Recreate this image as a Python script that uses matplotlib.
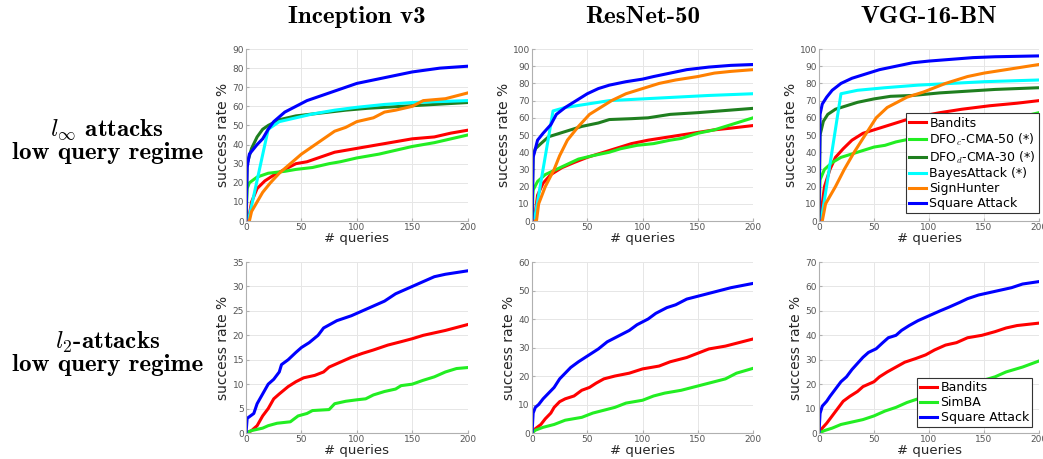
import matplotlib
matplotlib.use("Agg")
import matplotlib.pyplot as plt

plt.rcParams["mathtext.fontset"] = "cm"

# ---------- data: (queries, success rate %) ----------
# top row: l_inf attacks
inc_bandits_x = [0, 2, 5, 10, 17, 25, 35, 45, 55, 65, 80, 100, 120, 130, 150, 170, 185, 200]
inc_bandits_y = [0, 0, 10, 17, 21, 24, 27, 30, 31, 33, 36, 38, 40, 41, 43, 44, 46, 47.5]
inc_dfoc_x = [0, 1, 3, 10, 20, 35, 45, 60, 75, 85, 100, 120, 135, 150, 170, 185, 200]
inc_dfoc_y = [0, 17, 20, 23, 25, 26, 27, 28, 30, 31, 33, 35, 37, 39, 41, 43, 45]
inc_dfod_x = [0, 1, 5, 10, 15, 20, 30, 45, 60, 90, 110, 140, 170, 200]
inc_dfod_y = [0, 30, 38, 44, 48, 50, 53, 55, 56, 58, 59, 60, 61, 62]
inc_bayes_x = [0, 2, 20, 30, 45, 60, 80, 100, 125, 150, 200]
inc_bayes_y = [0, 0, 48, 52, 54, 56, 58, 59.5, 61, 62, 63]
inc_sign_x = [0, 3, 5, 10, 15, 22, 30, 40, 50, 60, 70, 80, 90, 100, 115, 125, 135, 150, 160, 180, 200]
inc_sign_y = [0, 0, 5, 10, 15, 20, 25, 30, 35, 39, 43, 47, 49, 52, 54, 57, 58, 60, 63, 64, 67]
inc_square_x = [0, 1, 3, 10, 15, 20, 25, 35, 45, 55, 70, 85, 100, 125, 150, 175, 200]
inc_square_y = [0, 28, 35, 40, 43, 48, 52, 57, 60, 63, 66, 69, 72, 75, 78, 80, 81]

res_bandits_x = [0, 2, 5, 10, 17, 27, 38, 50, 65, 75, 90, 105, 125, 145, 165, 180, 200]
res_bandits_y = [0, 0, 15, 22, 27, 31, 34, 37, 40, 42, 45, 47, 49, 51, 53, 54, 55.5]
res_dfoc_x = [0, 1, 5, 12, 22, 32, 42, 55, 70, 80, 95, 110, 125, 135, 150, 165, 180, 200]
res_dfoc_y = [0, 18, 23, 27, 30, 33, 36, 38, 40, 42, 44, 45, 47, 48, 51, 53, 56, 60]
res_dfod_x = [0, 1, 3, 8, 15, 25, 35, 45, 60, 70, 90, 105, 125, 150, 170, 200]
res_dfod_y = [0, 38, 42, 45, 49, 51, 53, 55, 57, 59, 59.5, 60, 62, 63, 64, 65.5]
res_bayes_x = [0, 2, 19, 30, 50, 70, 100, 130, 160, 200]
res_bayes_y = [0, 0, 64, 66, 68, 70, 71, 72, 73, 74]
res_sign_x = [0, 4, 6, 12, 20, 25, 32, 42, 52, 62, 72, 85, 100, 115, 130, 150, 165, 180, 200]
res_sign_y = [0, 0, 10, 20, 30, 38, 47, 55, 62, 66, 70, 74, 77, 80, 82, 84, 86, 87, 88]
res_square_x = [0, 1, 3, 5, 10, 17, 22, 30, 40, 50, 60, 70, 85, 100, 110, 125, 140, 160, 180, 200]
res_square_y = [0, 37, 42, 47, 51, 56, 62, 66, 70, 74, 77, 79, 81, 82.5, 84, 86, 88, 89.5, 90.5, 91]

vgg_bandits_x = [0, 1, 5, 10, 15, 22, 30, 40, 50, 60, 70, 85, 110, 130, 155, 180, 200]
vgg_bandits_y = [0, 0, 20, 30, 37, 42, 47, 51, 53, 55, 57, 60, 63, 65, 67, 68.5, 70]
vgg_dfoc_x = [0, 1, 5, 12, 20, 30, 40, 50, 60, 70, 85, 110, 130, 155, 180, 200]
vgg_dfoc_y = [0, 24, 30, 34, 37, 39, 41, 43, 44, 46, 48, 52, 55, 58, 60, 63]
vgg_dfod_x = [0, 1, 4, 8, 15, 25, 35, 50, 65, 85, 110, 135, 160, 200]
vgg_dfod_y = [0, 50, 58, 62, 65, 67, 69, 71, 72.5, 73, 74.5, 75.5, 76.5, 77.5]
vgg_bayes_x = [0, 2, 20, 35, 60, 90, 120, 150, 200]
vgg_bayes_y = [0, 0, 74, 76, 77.5, 79, 80, 81, 82]
vgg_sign_x = [0, 3, 6, 15, 23, 32, 42, 52, 62, 80, 95, 115, 135, 150, 170, 190, 200]
vgg_sign_y = [0, 0, 10, 20, 30, 40, 50, 60, 66, 72, 75, 80, 84, 86, 88, 90, 91]
vgg_square_x = [0, 1, 3, 7, 12, 20, 30, 40, 55, 70, 85, 100, 120, 140, 160, 200]
vgg_square_y = [0, 62, 68, 72, 76, 80, 83, 85, 88, 90, 92, 93, 94, 95, 95.5, 96]

# bottom row: l_2 attacks
inc2_bandits_x = [0, 5, 10, 15, 20, 25, 30, 38, 45, 52, 62, 70, 75, 85, 95, 105, 115, 128, 140, 150, 160, 170, 180, 200]
inc2_bandits_y = [0, 0.5, 1.5, 3.5, 5, 7, 8, 9.5, 10.5, 11.3, 11.8, 12.5, 13.5, 14.5, 15.5, 16.3, 17, 18, 18.7, 19.3, 20, 20.5, 21, 22.2]
inc2_simba_x = [0, 5, 15, 20, 28, 40, 47, 55, 60, 75, 80, 90, 100, 108, 115, 125, 135, 140, 150, 160, 170, 180, 190, 200]
inc2_simba_y = [0, 0.5, 1, 1.5, 2, 2.3, 3.5, 4, 4.6, 4.8, 6, 6.5, 6.8, 7, 7.8, 8.5, 9, 9.7, 10, 10.8, 11.5, 12.5, 13.2, 13.4]
inc2_square_x = [0, 1, 4, 7, 10, 15, 20, 25, 30, 32, 38, 45, 50, 57, 65, 70, 82, 95, 105, 115, 125, 135, 150, 160, 170, 180, 200]
inc2_square_y = [0, 3, 3.5, 4, 6, 8, 10, 11, 12.5, 14, 15, 16.5, 17.5, 18.5, 20, 21.5, 23, 24, 25, 26, 27, 28.5, 30, 31, 32, 32.5, 33.2]

res2_bandits_x = [0, 3, 8, 12, 17, 20, 25, 30, 38, 45, 52, 58, 65, 75, 88, 100, 115, 125, 140, 150, 160, 175, 190, 200]
res2_bandits_y = [0, 1.5, 3, 5, 7, 9, 11, 12, 13, 15, 16, 17.5, 19, 20, 21, 22.5, 23.5, 25, 26.5, 28, 29.5, 30.5, 32, 33]
res2_simba_x = [0, 3, 10, 20, 30, 45, 55, 65, 75, 85, 100, 110, 120, 135, 150, 165, 175, 185, 200]
res2_simba_y = [0, 1, 2, 3, 4.5, 5.5, 7, 8, 9, 10.5, 11.5, 13, 14, 15, 16.5, 18, 19, 21, 22.7]
res2_square_x = [0, 1, 3, 6, 10, 15, 20, 25, 30, 35, 42, 50, 60, 68, 78, 88, 95, 105, 112, 122, 130, 140, 155, 170, 180, 200]
res2_square_y = [0, 7, 9, 10, 12, 14, 16, 19, 21, 23, 25, 27, 29.5, 32, 34, 36, 38, 40, 42, 44, 45, 47, 48.5, 50, 51, 52.5]

vgg2_bandits_x = [0, 3, 7, 12, 17, 22, 28, 35, 40, 50, 55, 62, 70, 78, 88, 97, 105, 115, 125, 135, 148, 160, 170, 180, 200]
vgg2_bandits_y = [0, 2, 4, 7, 10, 13, 15, 17, 19, 21, 23, 25, 27, 29, 30.5, 32, 34, 36, 37, 39, 40, 41.5, 43, 44, 45]
vgg2_simba_x = [0, 5, 12, 20, 30, 40, 50, 60, 70, 80, 90, 100, 115, 130, 145, 160, 170, 185, 200]
vgg2_simba_y = [0, 1, 2, 3.5, 4.5, 5.5, 7, 9, 10.5, 12.5, 14, 15.5, 17, 19, 21, 23, 25, 27, 29.5]
vgg2_square_x = [0, 1, 3, 7, 10, 15, 20, 25, 30, 35, 40, 45, 52, 58, 63, 70, 75, 82, 90, 100, 110, 118, 128, 135, 145, 155, 165, 175, 185, 200]
vgg2_square_y = [0, 8, 11, 13, 15, 18, 21, 23, 26, 28.5, 31, 33, 34.5, 37, 39, 40, 42, 44, 46, 48, 50, 51.5, 53.5, 55, 56.5, 57.5, 58.5, 59.5, 61, 62]

models = ["Inception v3", "ResNet-50", "VGG-16-BN"]
linf_labels = ["Bandits", "DFO$_c$-CMA-50 (*)", "DFO$_d$-CMA-30 (*)",
               "BayesAttack (*)", "SignHunter", "Square Attack"]
linf_colors = ["#ff0000", "#22ee22", "#1f7f1f", "#00ffff", "#ff8000", "#0000ff"]
l2_labels = ["Bandits", "SimBA", "Square Attack"]
l2_colors = ["#ff0000", "#22ee22", "#0000ff"]

linf_data = [
    [(inc_bandits_x, inc_bandits_y), (inc_dfoc_x, inc_dfoc_y), (inc_dfod_x, inc_dfod_y),
     (inc_bayes_x, inc_bayes_y), (inc_sign_x, inc_sign_y), (inc_square_x, inc_square_y)],
    [(res_bandits_x, res_bandits_y), (res_dfoc_x, res_dfoc_y), (res_dfod_x, res_dfod_y),
     (res_bayes_x, res_bayes_y), (res_sign_x, res_sign_y), (res_square_x, res_square_y)],
    [(vgg_bandits_x, vgg_bandits_y), (vgg_dfoc_x, vgg_dfoc_y), (vgg_dfod_x, vgg_dfod_y),
     (vgg_bayes_x, vgg_bayes_y), (vgg_sign_x, vgg_sign_y), (vgg_square_x, vgg_square_y)],
]
l2_data = [
    [(inc2_bandits_x, inc2_bandits_y), (inc2_simba_x, inc2_simba_y), (inc2_square_x, inc2_square_y)],
    [(res2_bandits_x, res2_bandits_y), (res2_simba_x, res2_simba_y), (res2_square_x, res2_square_y)],
    [(vgg2_bandits_x, vgg2_bandits_y), (vgg2_simba_x, vgg2_simba_y), (vgg2_square_x, vgg2_square_y)],
]
linf_ymax = [90, 100, 100]
l2_ymax = [35, 60, 70]
l2_ystep = [5, 10, 10]

# ---------- layout ----------
fig = plt.figure(figsize=(10.43, 4.59), dpi=100)
col_x = [0.2359, 0.5101, 0.7852]
col_w = [0.2124, 0.2119, 0.2110]
row_y = [0.5185, 0.0566]
row_h = [0.3747, 0.3725]

title_font = dict(family=["cmb10", "DejaVu Serif"], fontsize=18, color="black")


def style_axes(ax, ymax, ystep):
    ax.set_xlim(0, 200)
    ax.set_ylim(0, ymax)
    ax.set_xticks(range(0, 201, 50))
    ax.set_yticks(range(0, ymax + 1, ystep))
    ax.grid(True, color="#e6e6e6", lw=0.7)
    ax.set_axisbelow(True)
    for s in ["top", "right"]:
        ax.spines[s].set_visible(False)
    for s in ["left", "bottom"]:
        ax.spines[s].set_color("#b0b0b0")
        ax.spines[s].set_linewidth(0.8)
    ax.tick_params(labelsize=6.5, labelcolor="#555555", color="#b0b0b0",
                   length=2, direction="in", pad=1.5)
    ax.set_xlabel("# queries", fontsize=9.5, color="#262626", labelpad=0)
    ax.set_ylabel("success rate %", fontsize=10, color="#262626", labelpad=1.5)


for j in range(3):
    # l_inf row
    ax = fig.add_axes([col_x[j], row_y[0], col_w[j], row_h[0]])
    for (xs, ys), lab, c in zip(linf_data[j], linf_labels, linf_colors):
        ax.plot(xs, ys, color=c, lw=2.2, label=lab, solid_joinstyle="round")
    style_axes(ax, linf_ymax[j], 10)
    if j == 2:
        leg = ax.legend(loc="lower right", bbox_to_anchor=(1.0, 0.045), fontsize=9,
                        handlelength=1.4, handletextpad=0.25, labelspacing=0.15,
                        borderpad=0.25, borderaxespad=0, fancybox=False,
                        edgecolor="#333333", framealpha=1)
        leg.get_frame().set_linewidth(0.8)
    fig.text(col_x[j] + col_w[j] / 2, 0.962, models[j], ha="center", va="center",
             **title_font)

    # l_2 row
    ax = fig.add_axes([col_x[j], row_y[1], col_w[j], row_h[1]])
    for (xs, ys), lab, c in zip(l2_data[j], l2_labels, l2_colors):
        ax.plot(xs, ys, color=c, lw=2.2, label=lab, solid_joinstyle="round")
    style_axes(ax, l2_ymax[j], l2_ystep[j])
    if j == 2:
        leg = ax.legend(loc="lower right", bbox_to_anchor=(0.968, 0.035), fontsize=9,
                        handlelength=1.4, handletextpad=0.25, labelspacing=0.15,
                        borderpad=0.25, borderaxespad=0, fancybox=False,
                        edgecolor="#333333", framealpha=1)
        leg.get_frame().set_linewidth(0.8)

# row labels
fig.text(0.103, 1 - 130 / 459, r"$l_\infty$ attacks", ha="center", va="center", **title_font)
fig.text(0.103, 1 - 153 / 459, "low query regime", ha="center", va="center", **title_font)
fig.text(0.103, 1 - 342 / 459, r"$l_2$-attacks", ha="center", va="center", **title_font)
fig.text(0.103, 1 - 365 / 459, "low query regime", ha="center", va="center", **title_font)

fig.savefig("out.png", dpi=100)
